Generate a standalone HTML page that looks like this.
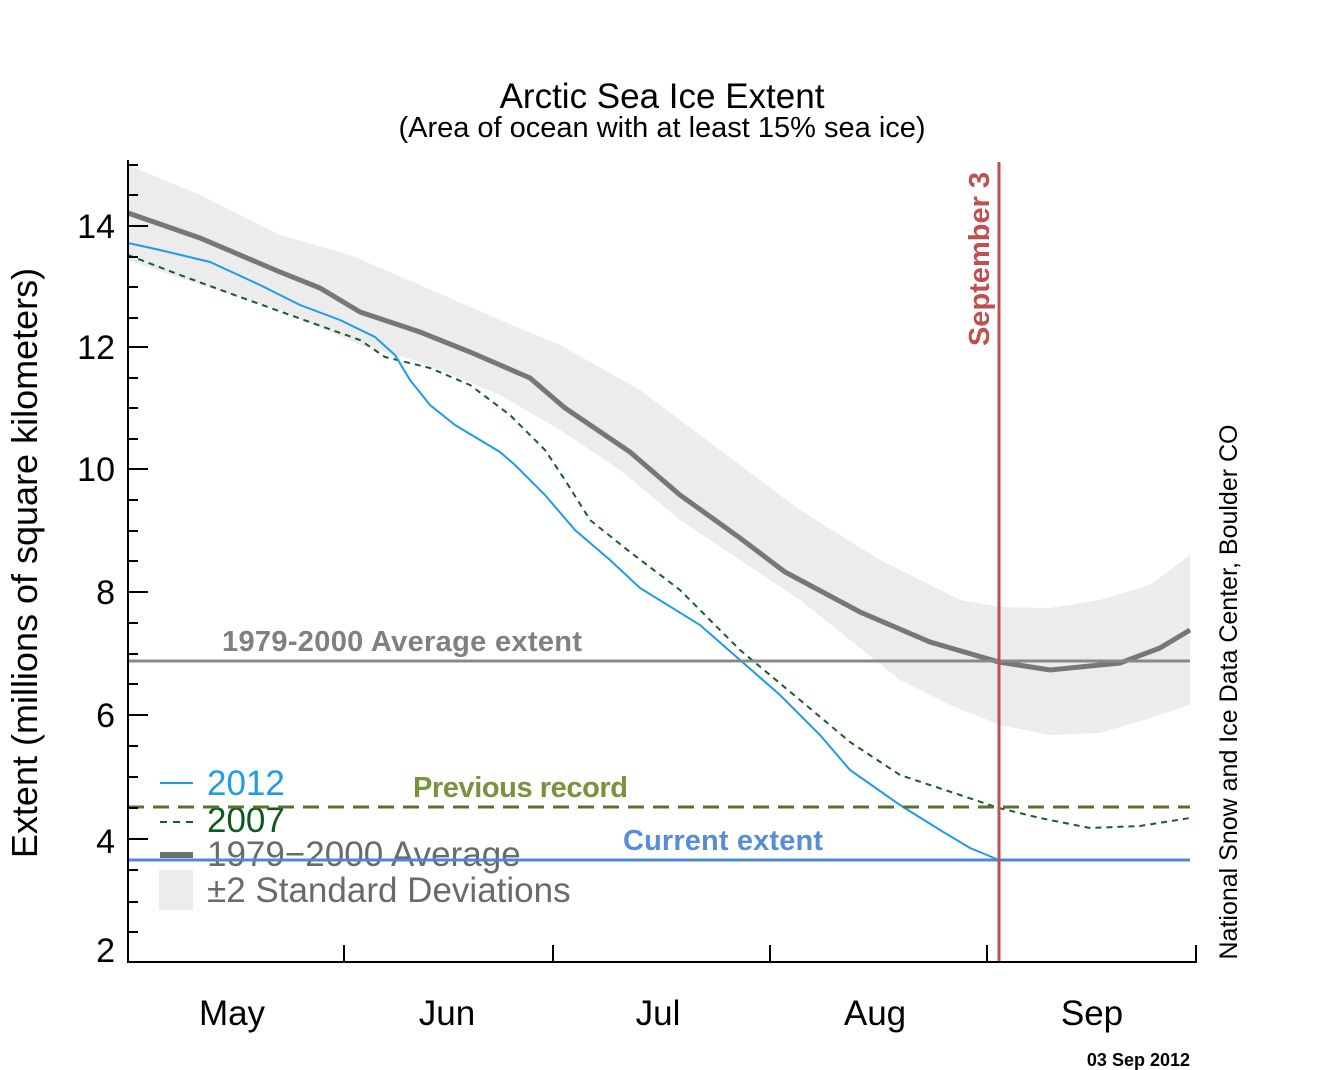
<!DOCTYPE html>
<html><head><meta charset="utf-8"><style>body{margin:0;background:#fff}svg{display:block}text{font-family:"Liberation Sans",sans-serif}</style></head><body>
<svg width="1337" height="1070" viewBox="0 0 1337 1070" xmlns="http://www.w3.org/2000/svg">
<text x="662" y="108" font-size="35" text-anchor="middle">Arctic Sea Ice Extent</text>
<text x="662" y="137" font-size="29" text-anchor="middle">(Area of ocean with at least 15% sea ice)</text>
<polygon fill="#ececec" points="128,165 200,195 280,235 350,255 420,285 500,320 560,345 640,390 720,450 800,510 880,560 960,600 1000,607 1050,608 1100,600 1150,585 1190,555 1190,705 1150,718 1100,733 1050,735 1000,725 950,705 900,680 850,640 800,600 740,560 680,520 620,470 560,430 500,395 420,362 360,345 280,310 200,285 128,260"/>
<rect x="159" y="870" width="34" height="40" fill="#ececec"/>
<g font-size="35" fill="#1e9be9"><line x1="160" y1="783" x2="193" y2="783" stroke="#1e9be9" stroke-width="2"/><text x="207" y="795">2012</text></g>
<line x1="160" y1="822" x2="193" y2="822" stroke="#1a5c2a" stroke-width="2" stroke-dasharray="7,6"/><text x="207" y="832" font-size="35" fill="#0d5a1e">2007</text>
<line x1="160" y1="855" x2="193" y2="855" stroke="#707070" stroke-width="6"/><text x="207" y="866" font-size="35" fill="#6a6a6a">1979−2000 Average</text>
<text x="207" y="902" font-size="35" fill="#6a6a6a">±2 Standard Deviations</text>
<polyline fill="none" stroke="#777" stroke-width="5" points="128,213 200,238 280,272 320,288 360,312 420,332 470,352 530,378 565,408 630,452 680,495 740,538 785,572 860,612 930,642 999,662 1050,670 1120,663 1160,648 1190,630"/>
<polyline fill="none" stroke="#1a5c2a" stroke-width="2" stroke-dasharray="6,5" points="128,255 180,275 240,297 290,315 360,340 385,357 430,368 470,385 510,415 545,450 565,480 590,520 630,552 680,590 740,650 800,700 850,742 900,775 960,795 999,808 1040,818 1090,828 1140,826 1190,818"/>
<polyline fill="none" stroke="#1e9be9" stroke-width="2" points="128,243 160,250 210,262 260,285 300,305 340,320 375,337 395,355 410,380 430,405 455,425 480,440 500,452 515,465 545,495 575,530 610,560 640,588 700,625 740,660 780,695 820,735 850,770 900,805 940,830 970,848 999,860"/>
<line x1="128" y1="661" x2="1190" y2="661" stroke="#888" stroke-width="3"/>
<line x1="128" y1="807" x2="1190" y2="807" stroke="#5a7030" stroke-width="3" stroke-dasharray="16,9"/>
<line x1="128" y1="860" x2="1190" y2="860" stroke="#4d87d6" stroke-width="3"/>
<line x1="999" y1="162" x2="999" y2="962" stroke="#c0504d" stroke-width="3"/>
<g font-weight="bold" font-size="29">
<text x="222" y="651" fill="#808080" textLength="360">1979-2000 Average extent</text>
<text x="413" y="797" fill="#77933c" textLength="215">Previous record</text>
<text x="623" y="850" fill="#558ed5" textLength="200">Current extent</text>
<text transform="translate(989,259) rotate(-90)" text-anchor="middle" fill="#c0504d">September 3</text>
</g>
<g stroke="#000" stroke-width="2" fill="none">
<polyline points="128,160 128,962 1196,962 1196,945"/>
<line x1="344" y1="962" x2="344" y2="945"/><line x1="553" y1="962" x2="553" y2="945"/><line x1="770" y1="962" x2="770" y2="945"/><line x1="987" y1="962" x2="987" y2="945"/>
</g>
<g stroke="#000" stroke-width="2">
<line x1="128" x2="148" y1="226" y2="226"/><line x1="128" x2="148" y1="347" y2="347"/><line x1="128" x2="148" y1="469" y2="469"/><line x1="128" x2="148" y1="592" y2="592"/><line x1="128" x2="148" y1="715" y2="715"/><line x1="128" x2="148" y1="839" y2="839"/>
<line x1="128" x2="138" y1="165" y2="165"/><line x1="128" x2="138" y1="195" y2="195"/><line x1="128" x2="138" y1="257" y2="257"/><line x1="128" x2="138" y1="287" y2="287"/><line x1="128" x2="138" y1="318" y2="318"/><line x1="128" x2="138" y1="378" y2="378"/><line x1="128" x2="138" y1="408" y2="408"/><line x1="128" x2="138" y1="439" y2="439"/><line x1="128" x2="138" y1="500" y2="500"/><line x1="128" x2="138" y1="531" y2="531"/><line x1="128" x2="138" y1="561" y2="561"/><line x1="128" x2="138" y1="623" y2="623"/><line x1="128" x2="138" y1="654" y2="654"/><line x1="128" x2="138" y1="684" y2="684"/><line x1="128" x2="138" y1="746" y2="746"/><line x1="128" x2="138" y1="777" y2="777"/><line x1="128" x2="138" y1="808" y2="808"/><line x1="128" x2="138" y1="870" y2="870"/><line x1="128" x2="138" y1="902" y2="902"/><line x1="128" x2="138" y1="932" y2="932"/>
</g>
<g font-size="34" text-anchor="end">
<text x="115" y="238">14</text><text x="115" y="359">12</text><text x="115" y="481">10</text><text x="115" y="604">8</text><text x="115" y="727">6</text><text x="115" y="853">4</text><text x="115" y="962">2</text>
</g>
<g font-size="35" text-anchor="middle">
<text x="232" y="1025">May</text><text x="447" y="1025">Jun</text><text x="658" y="1025">Jul</text><text x="875" y="1025">Aug</text><text x="1092" y="1025">Sep</text>
</g>
<text transform="translate(37,563) rotate(-90)" font-size="36" text-anchor="middle">Extent (millions of square kilometers)</text>
<text transform="translate(1237,692) rotate(-90)" font-size="25" text-anchor="middle">National Snow and Ice Data Center, Boulder CO</text>
<text x="1190" y="1066" font-size="18" font-weight="bold" text-anchor="end">03 Sep 2012</text>
</svg>
</body></html>
